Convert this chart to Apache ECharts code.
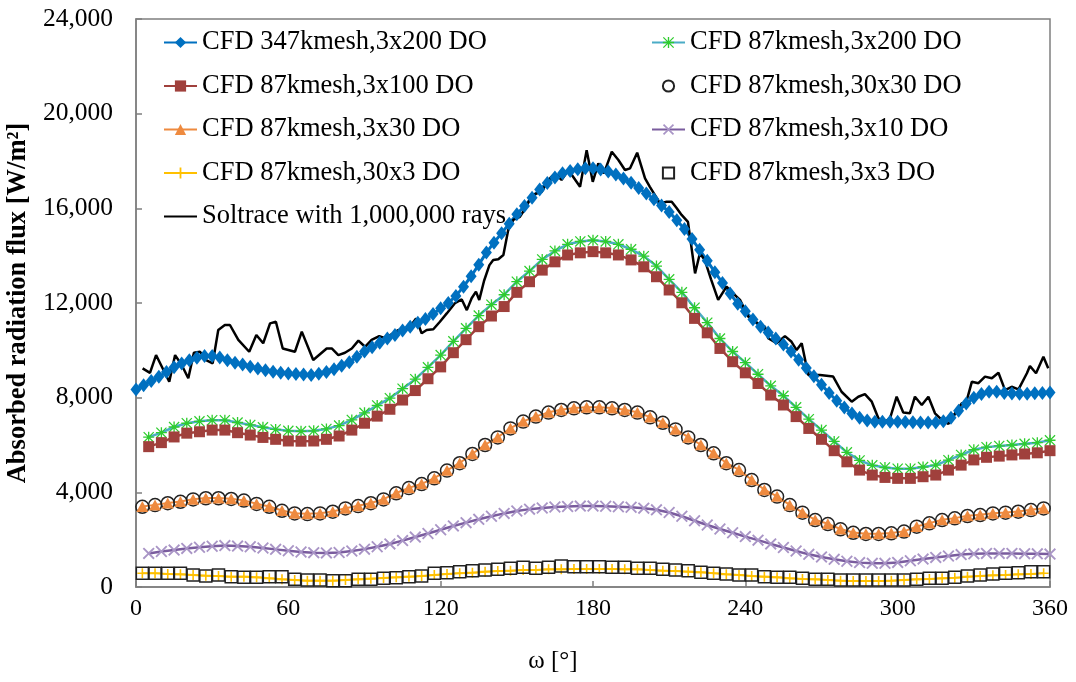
<!DOCTYPE html>
<html>
<head>
<meta charset="utf-8">
<script src="https://cdn.jsdelivr.net/npm/echarts@6/dist/echarts.min.js"></script>
<style>
html,body{margin:0;padding:0;background:#fff;}
#chart{width:1076px;height:682px;}
</style>
</head>
<body>
<div id="chart"></div>
<script>
// ---- data ----
var xTicks = [0, 60, 120, 180, 240, 300, 360];
var yTicks = [0, 4000, 8000, 12000, 16000, 20000, 24000];

var seriesNames = [
  'CFD 347kmesh,3x200 DO',
  'CFD 87kmesh,3x200 DO',
  'CFD 87kmesh,3x100 DO',
  'CFD 87kmesh,30x30 DO',
  'CFD 87kmesh,3x30 DO',
  'CFD 87kmesh,3x10 DO',
  'CFD 87kmesh,30x3 DO',
  'CFD 87kmesh,3x3 DO',
  'Soltrace with 1,000,000 rays'
];

var angles3 = [0,3,6,9,12,15,18,21,24,27,30,33,36,39,42,45,48,51,54,57,60,63,66,69,72,75,78,81,84,87,90,93,96,99,102,105,108,111,114,117,120,123,126,129,132,135,138,141,144,147,150,153,156,159,162,165,168,171,174,177,180,183,186,189,192,195,198,201,204,207,210,213,216,219,222,225,228,231,234,237,240,243,246,249,252,255,258,261,264,267,270,273,276,279,282,285,288,291,294,297,300,303,306,309,312,315,318,321,324,327,330,333,336,339,342,345,348,351,354,357,360];

var angles5 = [5,10,15,20,25,30,35,40,45,50,55,60,65,70,75,80,85,90,95,100,105,110,115,120,125,130,135,140,145,150,155,160,165,170,175,180,185,190,195,200,205,210,215,220,225,230,235,240,245,250,255,260,265,270,275,280,285,290,295,300,305,310,315,320,325,330,335,340,345,350,355,360];

var anglesMid = [2.5,7.5,12.5,17.5,22.5,27.5,32.5,37.5,42.5,47.5,52.5,57.5,62.5,67.5,72.5,77.5,82.5,87.5,92.5,97.5,102.5,107.5,112.5,117.5,122.5,127.5,132.5,137.5,142.5,147.5,152.5,157.5,162.5,167.5,172.5,177.5,182.5,187.5,192.5,197.5,202.5,207.5,212.5,217.5,222.5,227.5,232.5,237.5,242.5,247.5,252.5,257.5,262.5,267.5,272.5,277.5,282.5,287.5,292.5,297.5,302.5,307.5,312.5,317.5,322.5,327.5,332.5,337.5,342.5,347.5,352.5,357.5];

var cfd347_3x200 = [8350,8520,8700,8880,9080,9280,9440,9580,9690,9760,
 9760,9700,9580,9480,9400,9310,9230,9160,9100,9050,
 9020,9000,8980,8960,9010,9080,9200,9350,9500,9730,
 9950,10130,10320,10500,10650,10840,11000,11170,11320,11530,
 11780,12000,12300,12690,13130,13620,14130,14550,14950,15350,
 15750,16100,16450,16800,17070,17300,17480,17580,17650,17690,
 17690,17640,17560,17430,17260,17080,16860,16630,16380,16120,
 15850,15500,15130,14700,14250,13780,13300,12850,12400,11970,
 11650,11300,11000,10750,10500,10250,9950,9600,9250,8900,
 8550,8200,7870,7580,7330,7150,7030,6980,6980,6980,
 6980,6970,6960,6950,6950,6950,7000,7150,7450,7750,
 8000,8150,8250,8250,8200,8180,8170,8170,8190,8200,
 8220];

var cfd87_3x200 = [6330,6520,6760,6920,7000,7050,7050,6950,6850,6750,
 6660,6600,6580,6600,6680,6820,7060,7360,7670,7980,
 8380,8780,9280,9800,10380,10930,11470,11930,12350,12900,
 13350,13840,14200,14480,14600,14650,14600,14480,14270,13980,
 13560,13000,12450,11800,11170,10500,9950,9480,8990,8500,
 8080,7590,7090,6630,6150,5690,5350,5140,5050,5000,
 5000,5070,5150,5360,5580,5800,5910,5960,6000,6050,
 6100,6200];

var cfd87_3x100 = [5930,6100,6340,6500,6560,6630,6630,6520,6420,6320,
 6240,6170,6160,6170,6240,6380,6630,6920,7220,7510,
 7900,8300,8800,9300,9900,10450,11000,11450,11850,12450,
 12900,13390,13740,14030,14120,14170,14120,14030,13820,13530,
 13110,12550,12010,11350,10740,10080,9520,9050,8600,8110,
 7690,7200,6700,6240,5760,5290,4940,4730,4630,4590,
 4590,4660,4730,4940,5150,5370,5480,5530,5580,5620,
 5670,5760];

var cfd87_30x30 = [3390,3460,3540,3600,3700,3750,3750,3720,3650,3510,
 3390,3220,3110,3080,3110,3180,3320,3420,3540,3700,
 3960,4180,4350,4590,4920,5230,5620,6000,6320,6700,
 6990,7200,7370,7480,7550,7590,7590,7550,7480,7370,
 7170,6940,6660,6320,6000,5650,5230,4940,4520,4100,
 3820,3460,3140,2830,2660,2440,2290,2240,2240,2270,
 2340,2550,2690,2830,2900,3000,3040,3110,3140,3180,
 3250,3320];

var cfd87_3x30 = [3400,3470,3550,3610,3710,3760,3760,3730,3660,3520,
 3400,3230,3120,3090,3120,3190,3330,3430,3550,3710,
 3970,4190,4360,4600,4930,5240,5630,6010,6330,6710,
 7000,7210,7380,7490,7560,7600,7600,7560,7490,7380,
 7180,6950,6670,6330,6010,5660,5240,4950,4530,4110,
 3830,3470,3150,2840,2670,2450,2300,2250,2250,2280,
 2350,2560,2700,2840,2910,3010,3050,3120,3150,3190,
 3260,3330];

var cfd87_3x10 = [1420,1500,1560,1630,1680,1720,1750,1730,1700,1650,
 1590,1530,1480,1450,1440,1460,1520,1600,1700,1820,
 1960,2110,2260,2420,2580,2720,2860,2990,3110,3210,
 3290,3340,3380,3400,3420,3420,3410,3390,3370,3330,
 3260,3150,2990,2800,2620,2450,2290,2130,1980,1820,
 1670,1520,1380,1270,1170,1090,1030,1000,1000,1040,
 1110,1180,1250,1310,1370,1400,1420,1420,1420,1410,
 1400,1390];

var cfd87_30x3 = [578,578,549,535,507,479,465,437,437,408,
 366,324,296,268,268,268,296,324,352,380,
 408,437,465,507,549,578,606,648,676,690,
 718,718,746,746,760,760,760,760,746,746,
 718,690,676,648,620,578,535,507,465,437,
 408,366,338,324,296,268,254,254,254,268,
 296,324,338,366,394,437,465,493,507,535,
 549,578];

var cfd87_3x3 = [578,578,578,578,507,465,507,437,408,408,
 437,437,324,296,296,268,268,324,324,366,
 394,437,465,578,606,648,690,718,746,789,
 831,789,831,887,859,859,859,831,831,789,
 789,746,718,690,620,578,550,507,507,437,
 408,408,366,324,324,296,296,296,296,296,
 296,324,366,366,408,465,507,550,578,606,
 648,648];

var soltraceAngle = [2.6,5.5,7.9,13.1,15.4,18.0,20.6,22.8,25.2,27.6,
 30.2,32.4,35.0,37.0,40.3,44.6,47.4,50.1,52.8,55.1,
 57.8,62.6,65.3,69.8,75.1,77.1,79.7,82.3,85.0,87.6,
 90.2,92.8,95.8,98.1,103.3,105.3,107.9,110.3,112.5,114.5,
 117.1,119.7,122.4,125.6,128.3,130.3,132.2,133.9,135.2,137.1,
 139.2,140.7,142.7,144.7,146.6,148.6,151.2,153.8,155.8,159.8,
 162.4,165.0,167.6,170.3,174.9,177.5,179.9,182.1,184.3,187.4,
 190.0,192.6,194.6,197.4,200.5,202.4,206.4,209.0,211.0,213.0,
 214.9,217.4,220.2,222.1,224.0,226.5,229.3,232.6,235.2,237.9,
 241.2,243.1,245.8,247.7,249.0,252.3,255.6,258.2,260.2,262.2,
 264.8,269.4,274.6,277.9,281.9,284.5,287.1,289.8,292.4,295.0,
 297.0,299.6,302.2,304.8,306.8,309.5,312.1,314.7,317.4,320.0,
 322.6,325.2,326.9,329.2,331.8,334.4,337.1,339.7,342.3,344.9,
 347.6,350.9,352.1,354.5,357.4,359.3];

var soltraceFlux = [9240,9050,9800,8670,9800,9380,8820,9900,9940,9590,
 9450,10860,11070,11070,10440,9940,10650,10300,11140,11210,
 10080,9940,10790,9590,10080,10080,9800,9900,10080,10410,
 10150,10440,10600,10510,10860,10790,11000,11350,10720,10860,
 10890,11210,11560,11990,12150,11700,12200,12480,12130,12940,
 13600,13820,13850,14030,15080,15510,15640,16070,16560,16700,
 17200,17480,17200,17620,16910,18460,17120,17900,17480,18390,
 18040,17620,17690,18350,17270,16910,16210,16280,16280,16000,
 15720,15430,13250,14100,13820,13000,12130,12690,12410,12130,
 11420,11280,11070,11000,10510,10300,10600,10360,10010,10300,
 8960,8960,8890,8250,7830,8040,8150,7830,7130,6980,
 7130,8040,7370,7340,8040,7690,8040,7340,7060,6890,
 7340,7760,7760,8670,8610,8890,8820,9050,8320,8460,
 8350,9030,9340,9030,9730,9240];

// ---- chart ----
function pairs(xs, ys) { return xs.map(function (x, i) { return [x, ys[i]]; }); }

var FONT = '"Liberation Serif", "Times New Roman", serif';
var PLUS = 'path://M4.2,0H5.8V4.2H10V5.8H5.8V10H4.2V5.8H0V4.2H4.2Z';
var CROSS = 'path://M0,1.1L1.1,0L5,3.9L8.9,0L10,1.1L6.1,5L10,8.9L8.9,10L5,6.1L1.1,10L0,8.9L3.9,5Z';
var STAR = 'path://M4.4,0H5.6V10H4.4Z M0,4.4H10V5.6H0Z M0.8,0L10,9.2L9.2,10L0,0.8Z M9.2,0L10,0.8L0.8,10L0,9.2Z';

var chart = echarts.init(document.getElementById('chart'), null, {renderer: 'canvas'});

var legendText = {fontFamily: FONT, fontSize: 26.5, color: '#000', lineHeight: 26};

var option = {
  backgroundColor: '#fff',
  animation: false,
  grid: {left: 136, right: 26, top: 19, bottom: 95, show: true, borderColor: '#7f7f7f', borderWidth: 1.5,
    containLabel: false, outerBoundsMode: 'none'},
  legend: [
    {
      left: 163, top: 29, padding: 0, orient: 'vertical', itemWidth: 33, itemHeight: 14, itemGap: 16.5,
      textStyle: legendText,
      data: [seriesNames[0], seriesNames[2], seriesNames[4], seriesNames[6],
        {name: seriesNames[8], itemStyle: {opacity: 0}}]
    },
    {
      left: 651, top: 29, padding: 0, orient: 'vertical', itemWidth: 33, itemHeight: 14, itemGap: 16.5,
      textStyle: legendText,
      data: [seriesNames[1], seriesNames[3], seriesNames[5], seriesNames[7]]
    }
  ],
  xAxis: {
    type: 'value', min: xTicks[0], max: xTicks[xTicks.length - 1], interval: 60,
    name: 'ω [°]', nameLocation: 'middle', nameGap: 62,
    nameTextStyle: {fontFamily: FONT, fontSize: 25, color: '#000', padding: [0, 80, 0, 0]},
    axisLine: {show: true, lineStyle: {color: '#7f7f7f', width: 1.5}},
    axisTick: {show: true, inside: true, length: 6, lineStyle: {color: '#7f7f7f', width: 1.5}},
    axisLabel: {fontFamily: FONT, fontSize: 24, color: '#000', margin: 10},
    splitLine: {show: false}
  },
  yAxis: {
    type: 'value', min: yTicks[0], max: yTicks[yTicks.length - 1], interval: 4000,
    name: 'Absorbed radiation flux [W/m²]', nameLocation: 'middle', nameGap: 99,
    nameTextStyle: {fontFamily: FONT, fontSize: 26.5, fontWeight: 'bold', color: '#000'},
    axisLine: {show: true, lineStyle: {color: '#7f7f7f', width: 1.5}},
    axisTick: {show: true, inside: true, length: 6, lineStyle: {color: '#7f7f7f', width: 1.5}},
    axisLabel: {fontFamily: FONT, fontSize: 25.5, color: '#000', margin: 23,
      formatter: function (v) { return v.toLocaleString('en-US'); }},
    splitLine: {show: false}
  },
  series: [
    {
      name: seriesNames[0], type: 'line', data: pairs(angles3, cfd347_3x200),
      symbol: 'diamond', symbolSize: [11, 14], showAllSymbol: true,
      lineStyle: {color: '#0070C0', width: 3}, itemStyle: {color: '#0070C0'}
    },
    {
      name: seriesNames[1], type: 'line', data: pairs(angles5, cfd87_3x200),
      symbol: STAR, symbolSize: 11, showAllSymbol: true,
      lineStyle: {color: '#4BACC6', width: 2.5}, itemStyle: {color: '#2ECC2E'}
    },
    {
      name: seriesNames[2], type: 'line', data: pairs(angles5, cfd87_3x100),
      symbol: 'rect', symbolSize: 11, showAllSymbol: true,
      lineStyle: {color: '#A0403C', width: 2.5}, itemStyle: {color: '#A0403C'}
    },
    {
      name: seriesNames[3], type: 'line', data: pairs(anglesMid, cfd87_30x30),
      symbol: 'circle', symbolSize: 13, showAllSymbol: true,
      lineStyle: {width: 0, opacity: 0},
      itemStyle: {color: 'rgba(255,255,255,0)', borderColor: '#222', borderWidth: 1.5}
    },
    {
      name: seriesNames[4], type: 'line', data: pairs(anglesMid, cfd87_3x30),
      symbol: 'triangle', symbolSize: [12, 11], showAllSymbol: true,
      lineStyle: {color: '#EE8A3F', width: 2}, itemStyle: {color: '#EE8A3F'}
    },
    {
      name: seriesNames[5], type: 'line', data: pairs(angles5, cfd87_3x10),
      symbol: CROSS, symbolSize: 12, showAllSymbol: true,
      lineStyle: {color: '#7A5C9E', width: 2.5}, itemStyle: {color: '#A995C6'}
    },
    {
      name: seriesNames[6], type: 'line', data: pairs(anglesMid, cfd87_30x3),
      symbol: PLUS, symbolSize: 10, showAllSymbol: true,
      lineStyle: {color: '#FFC000', width: 2}, itemStyle: {color: '#FFC000'}
    },
    {
      name: seriesNames[7], type: 'line', data: pairs(anglesMid, cfd87_3x3),
      symbol: 'rect', symbolSize: 12, showAllSymbol: true,
      lineStyle: {width: 0, opacity: 0},
      itemStyle: {color: 'rgba(255,255,255,0)', borderColor: '#222', borderWidth: 1.5}
    },
    {
      name: seriesNames[8], type: 'line', data: pairs(soltraceAngle, soltraceFlux),
      symbol: 'none', showSymbol: false,
      lineStyle: {color: '#000', width: 2.5}, itemStyle: {color: '#000'}
    }
  ]
};
chart.setOption(option);
</script>
</body>
</html>
